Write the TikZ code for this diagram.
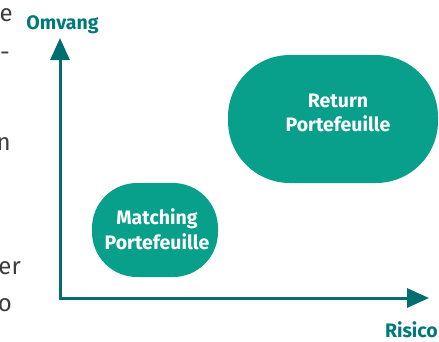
\documentclass[tikz,border=0pt]{standalone}
\usepackage{fontspec}
\setmainfont{Fira Sans}
\usetikzlibrary{arrows.meta}
\definecolor{axisteal}{HTML}{006D6F}
\definecolor{blobteal}{HTML}{089F8B}
\definecolor{labelteal}{HTML}{00797B}
\definecolor{bodygray}{HTML}{3C3C3C}
\tikzset{
  blob/.style={fill=blobteal, draw=none, inner sep=0pt},
  blobtext/.style={text=white, align=center,
    font=\fontsize{19.5}{24.5}\selectfont\bfseries, inner sep=0pt},
  axislabel/.style={text=labelteal, font=\fontsize{19.5}{22}\selectfont\bfseries, inner sep=0pt},
  axisline/.style={draw=axisteal, line width=3pt,
    {Triangle[length=22pt,width=19pt]}-{Triangle[length=22pt,width=19pt]}},
  fragment/.style={text=bodygray, font=\fontsize{24}{30}\selectfont, inner sep=0pt, anchor=base east}
}
\begin{document}
\begin{tikzpicture}[x=1pt,y=-1pt]
\useasboundingbox (0,0) rectangle (439,341);
% fragments of neighbouring text
\node[fragment] (f1) at (13,21) {e};
\node[fragment] (f2) at (10,60) {-};
\node[fragment] (f3) at (11,150) {n};
\node[fragment] (f4) at (21,274) {er};
\node[fragment] (f5) at (12,311) {o};
% blobs
\node[blob, minimum width=210pt, minimum height=128pt, rounded corners=62pt] (ret) at (333,119) {};
\node[blobtext] (rettxt) at (338,113) {Return\\Portefeuille};
\node[blob, minimum width=126pt, minimum height=94pt, rounded corners=45pt] (mat) at (155,230) {};
\node[blobtext] (mattxt) at (157,229.5) {Matching\\Portefeuille};
% axes
\coordinate (ytip) at (60,38);
\coordinate (orig) at (60,298);
\coordinate (xtip) at (429,298);
\draw[axisline] (ytip) -- (orig) -- (xtip);
\node[axislabel, anchor=base] (om) at (62.5,29) {Omvang};
\node[axislabel, anchor=base east] (ri) at (438,337) {Risico};
\end{tikzpicture}
\end{document}
